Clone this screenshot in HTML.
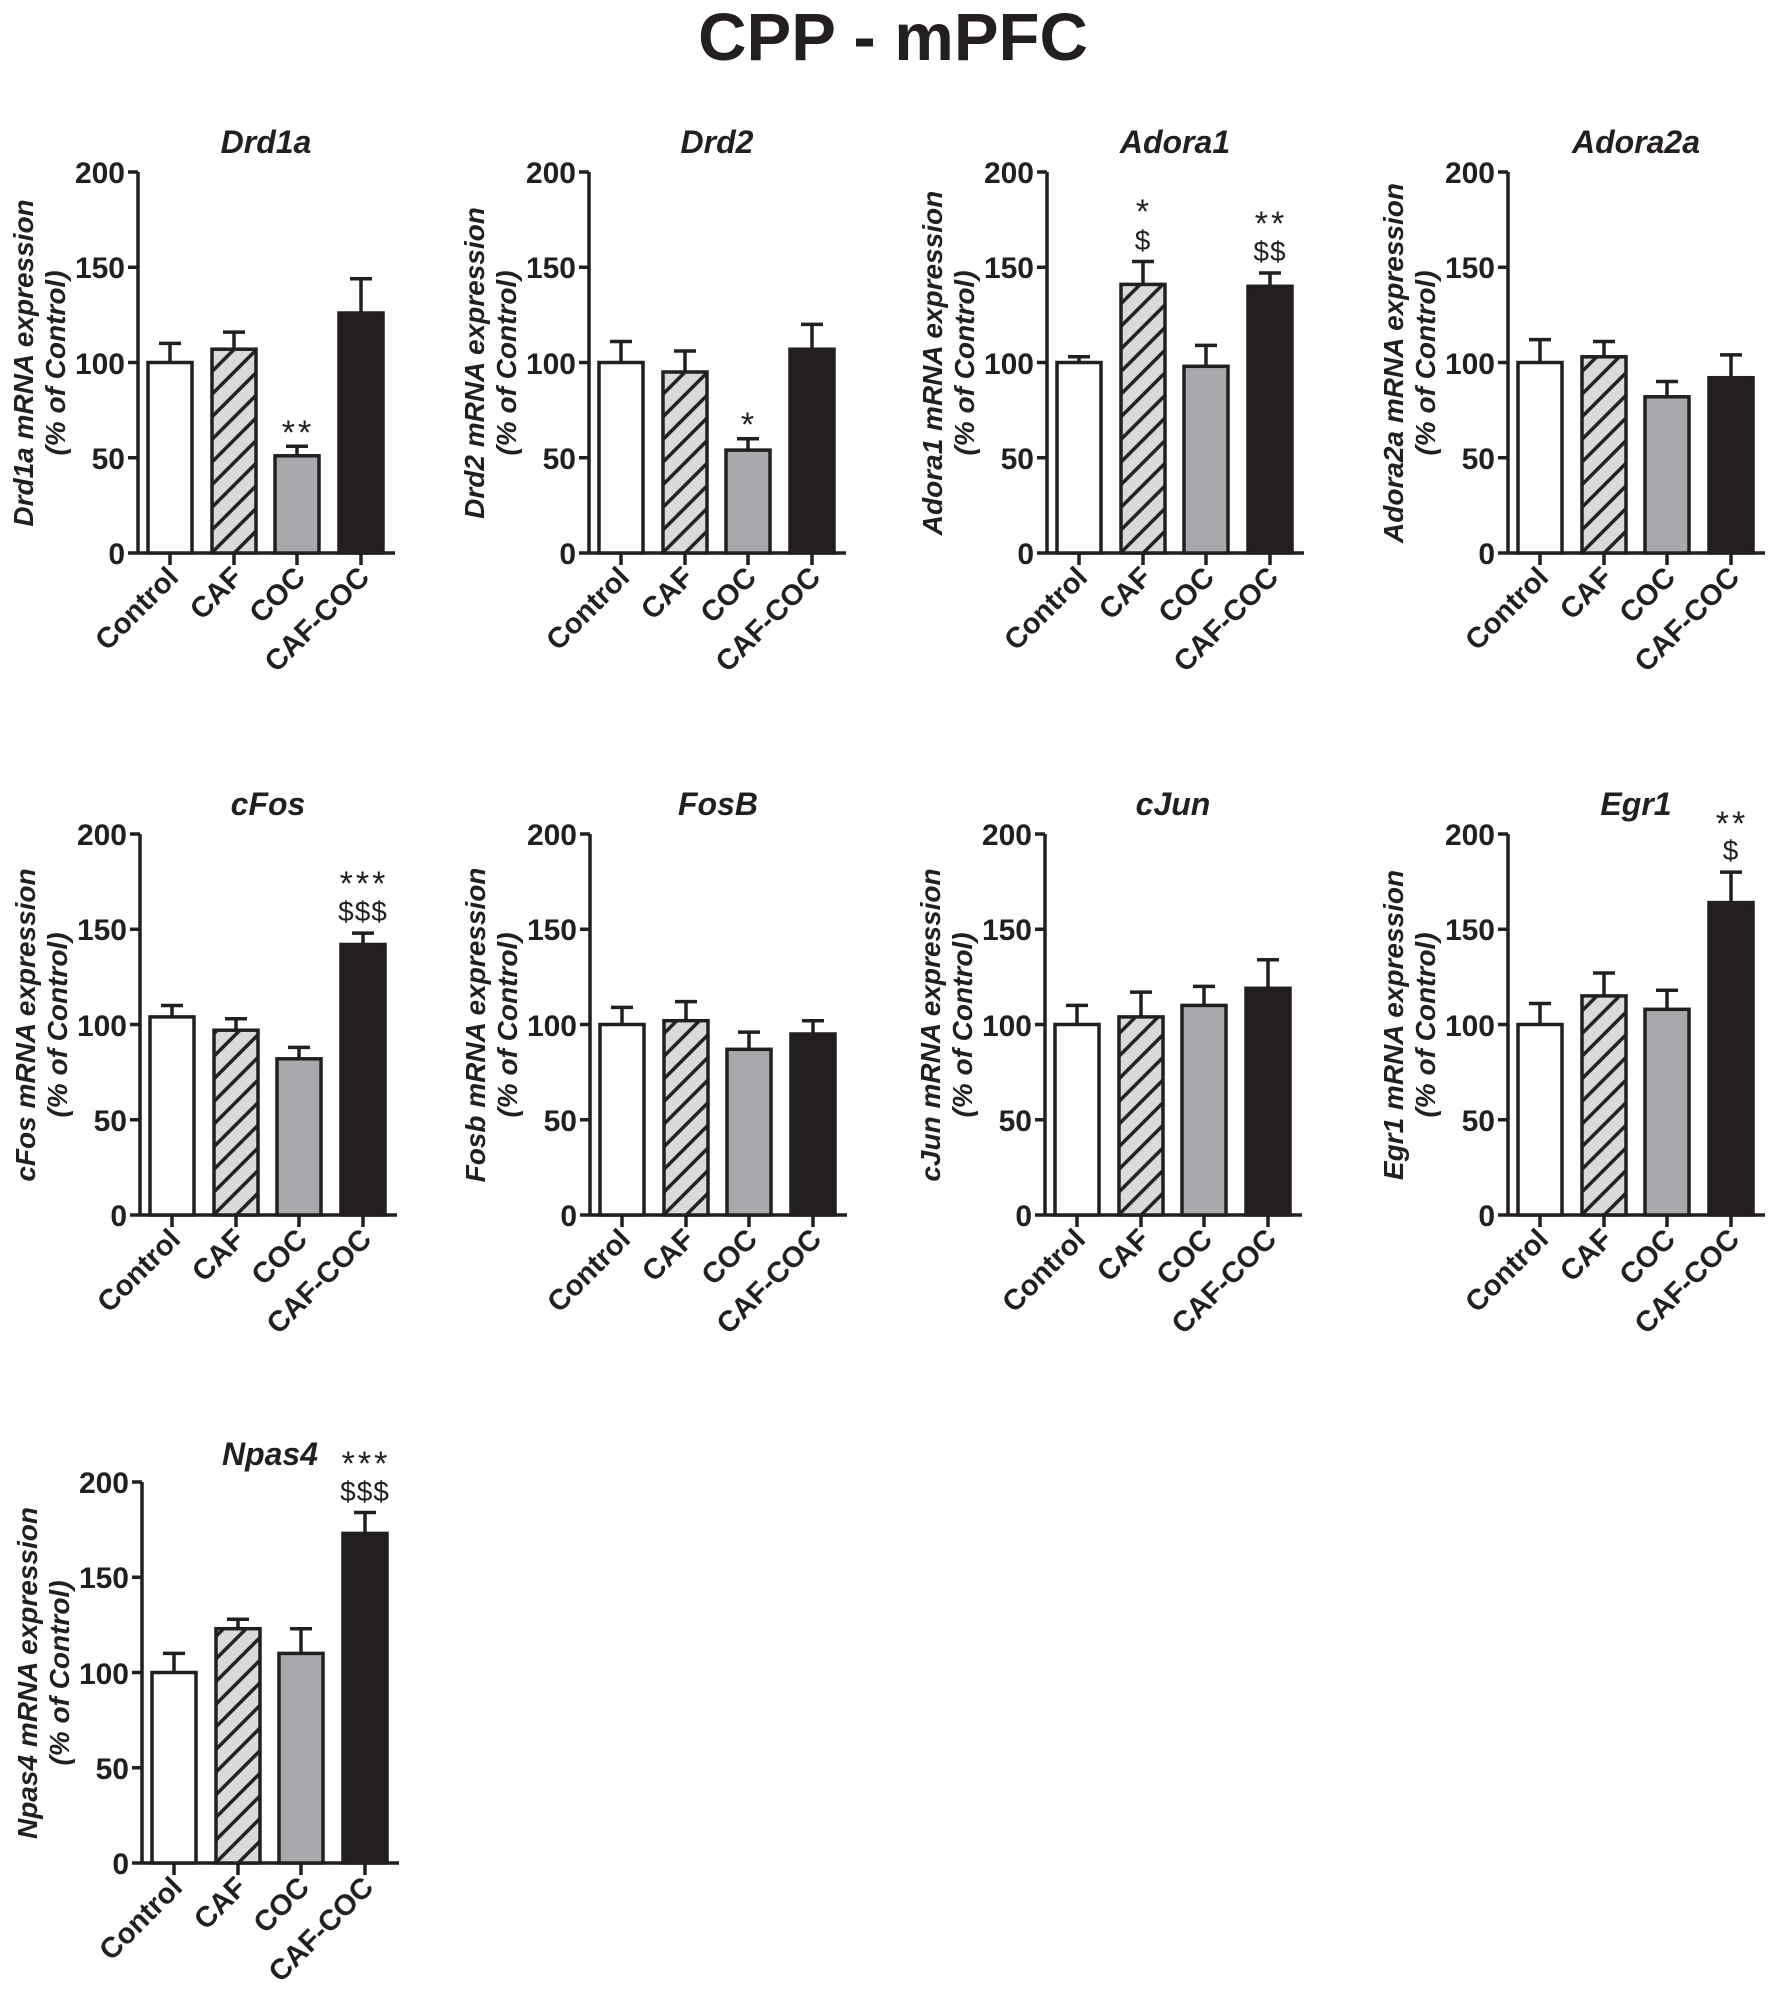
<!DOCTYPE html>
<html><head><meta charset="utf-8"><style>
html,body{margin:0;padding:0;background:#fff;}
svg{display:block;font-family:"Liberation Sans",Arial,sans-serif;}
.tk{font-size:30px;font-weight:bold;fill:#231f20;text-anchor:end;}
.ti{font-size:32px;font-weight:bold;font-style:italic;fill:#231f20;text-anchor:middle;}
.yt{font-size:28px;font-weight:bold;font-style:italic;fill:#231f20;text-anchor:middle;}
.cl{font-size:29px;font-weight:bold;fill:#231f20;text-anchor:end;}
.an{font-size:34px;fill:#231f20;text-anchor:middle;letter-spacing:3px;}
.dl{font-size:28px;fill:#231f20;text-anchor:middle;letter-spacing:1px;}
.ax{stroke:#231f20;stroke-width:3.5;fill:none;}
.b{stroke:#231f20;stroke-width:3.5;}
</style></head><body>
<svg width="1772" height="1993" viewBox="0 0 1772 1993" xmlns="http://www.w3.org/2000/svg">
<defs>
<pattern id="h" patternUnits="userSpaceOnUse" width="16" height="16" patternTransform="rotate(45)">
<rect width="16" height="16" fill="#d9dadb"/><line x1="4" y1="0" x2="4" y2="16" stroke="#231f20" stroke-width="3.5"/>
</pattern>
<g id="frame">
<path class="ax" d="M0 0V-381M-10 0H0M-10 -95.25H0M-10 -190.5H0M-10 -285.75H0M-10 -381H0M0 0H257M32 0V12M96 0V12M159 0V12M223 0V12"/>
<text class="tk" x="-13" y="11">0</text>
<text class="tk" x="-13" y="-84">50</text>
<text class="tk" x="-13" y="-179">100</text>
<text class="tk" x="-13" y="-275">150</text>
<text class="tk" x="-13" y="-370">200</text>
<text class="cl" transform="translate(42,26) rotate(-45)">Control</text>
<text class="cl" transform="translate(106,26) rotate(-45)">CAF</text>
<text class="cl" transform="translate(169,26) rotate(-45)">COC</text>
<text class="cl" transform="translate(233,26) rotate(-45)">CAF-COC</text>
</g>
</defs>
<text x="893" y="60" style="font-size:67px;font-weight:bold;fill:#231f20;text-anchor:middle">CPP - mPFC</text>

<!-- Drd1a -->
<g transform="translate(138,553)">
<use href="#frame"/>
<text class="ti" x="128" y="-400">Drd1a</text>
<text class="yt" transform="translate(-105,-190) rotate(-90)">Drd1a mRNA expression</text>
<text class="yt" transform="translate(-73,-190) rotate(-90)">(% of Control)</text>
<path class="ax" d="M32 -190.5V-209.6M21 -209.6H43M96 -203.8V-220.9M85 -220.9H107M159 -97.2V-106.7M148 -106.7H170M223 -240V-274.3M212 -274.3H234"/>
<rect class="b" x="10" y="-190.5" width="44" height="190.5" fill="#fff"/>
<rect class="b" x="74" y="-203.8" width="44" height="203.8" fill="url(#h)"/>
<rect class="b" x="137" y="-97.2" width="44" height="97.2" fill="#a7a9ac"/>
<rect class="b" x="201" y="-240" width="44" height="240" fill="#231f20"/>
<text class="an" x="160" y="-109">**</text>
</g>

<!-- Drd2 -->
<g transform="translate(589,553)">
<use href="#frame"/>
<text class="ti" x="128" y="-400">Drd2</text>
<text class="yt" transform="translate(-105,-190) rotate(-90)">Drd2 mRNA expression</text>
<text class="yt" transform="translate(-73,-190) rotate(-90)">(% of Control)</text>
<path class="ax" d="M32 -190.5V-211.5M21 -211.5H43M96 -181V-202M85 -202H107M159 -102.9V-114.3M148 -114.3H170M223 -203.8V-228.6M212 -228.6H234"/>
<rect class="b" x="10" y="-190.5" width="44" height="190.5" fill="#fff"/>
<rect class="b" x="74" y="-181" width="44" height="181" fill="url(#h)"/>
<rect class="b" x="137" y="-102.9" width="44" height="102.9" fill="#a7a9ac"/>
<rect class="b" x="201" y="-203.8" width="44" height="203.8" fill="#231f20"/>
<text class="an" x="160" y="-117">*</text>
</g>

<!-- Adora1 -->
<g transform="translate(1047,553)">
<use href="#frame"/>
<text class="ti" x="128" y="-400">Adora1</text>
<text class="yt" transform="translate(-105,-190) rotate(-90)">Adora1 mRNA expression</text>
<text class="yt" transform="translate(-73,-190) rotate(-90)">(% of Control)</text>
<path class="ax" d="M32 -190.5V-196.2M21 -196.2H43M96 -268.6V-291.5M85 -291.5H107M159 -186.7V-207.6M148 -207.6H170M223 -266.7V-280M212 -280H234"/>
<rect class="b" x="10" y="-190.5" width="44" height="190.5" fill="#fff"/>
<rect class="b" x="74" y="-268.6" width="44" height="268.6" fill="url(#h)"/>
<rect class="b" x="137" y="-186.7" width="44" height="186.7" fill="#a7a9ac"/>
<rect class="b" x="201" y="-266.7" width="44" height="266.7" fill="#231f20"/>
<text class="an" x="97" y="-330">*</text><text class="dl" x="96" y="-303">$</text>
<text class="an" x="224" y="-318">**</text><text class="dl" x="223" y="-292">$$</text>
</g>

<!-- Adora2a -->
<g transform="translate(1508,553)">
<use href="#frame"/>
<text class="ti" x="128" y="-400">Adora2a</text>
<text class="yt" transform="translate(-105,-190) rotate(-90)">Adora2a mRNA expression</text>
<text class="yt" transform="translate(-73,-190) rotate(-90)">(% of Control)</text>
<path class="ax" d="M32 -190.5V-213.4M21 -213.4H43M96 -196.2V-211.5M85 -211.5H107M159 -156.2V-171.5M148 -171.5H170M223 -175.3V-198.1M212 -198.1H234"/>
<rect class="b" x="10" y="-190.5" width="44" height="190.5" fill="#fff"/>
<rect class="b" x="74" y="-196.2" width="44" height="196.2" fill="url(#h)"/>
<rect class="b" x="137" y="-156.2" width="44" height="156.2" fill="#a7a9ac"/>
<rect class="b" x="201" y="-175.3" width="44" height="175.3" fill="#231f20"/>
</g>

<!-- cFos -->
<g transform="translate(140,1215)">
<use href="#frame"/>
<text class="ti" x="128" y="-400">cFos</text>
<text class="yt" transform="translate(-105,-190) rotate(-90)">cFos mRNA expression</text>
<text class="yt" transform="translate(-73,-190) rotate(-90)">(% of Control)</text>
<path class="ax" d="M32 -198.1V-209.5M21 -209.5H43M96 -184.8V-196.2M85 -196.2H107M159 -156.2V-167.6M148 -167.6H170M223 -270.5V-281.9M212 -281.9H234"/>
<rect class="b" x="10" y="-198.1" width="44" height="198.1" fill="#fff"/>
<rect class="b" x="74" y="-184.8" width="44" height="184.8" fill="url(#h)"/>
<rect class="b" x="137" y="-156.2" width="44" height="156.2" fill="#a7a9ac"/>
<rect class="b" x="201" y="-270.5" width="44" height="270.5" fill="#231f20"/>
<text class="an" x="224" y="-320">***</text><text class="dl" x="223" y="-294">$$$</text>
</g>

<!-- FosB -->
<g transform="translate(590,1215)">
<use href="#frame"/>
<text class="ti" x="128" y="-400">FosB</text>
<text class="yt" transform="translate(-105,-190) rotate(-90)">Fosb mRNA expression</text>
<text class="yt" transform="translate(-73,-190) rotate(-90)">(% of Control)</text>
<path class="ax" d="M32 -190.5V-207.6M21 -207.6H43M96 -194.3V-213.4M85 -213.4H107M159 -165.7V-182.9M148 -182.9H170M223 -181V-194.3M212 -194.3H234"/>
<rect class="b" x="10" y="-190.5" width="44" height="190.5" fill="#fff"/>
<rect class="b" x="74" y="-194.3" width="44" height="194.3" fill="url(#h)"/>
<rect class="b" x="137" y="-165.7" width="44" height="165.7" fill="#a7a9ac"/>
<rect class="b" x="201" y="-181" width="44" height="181" fill="#231f20"/>
</g>

<!-- cJun -->
<g transform="translate(1045,1215)">
<use href="#frame"/>
<text class="ti" x="128" y="-400">cJun</text>
<text class="yt" transform="translate(-105,-190) rotate(-90)">cJun mRNA expression</text>
<text class="yt" transform="translate(-73,-190) rotate(-90)">(% of Control)</text>
<path class="ax" d="M32 -190.5V-209.6M21 -209.6H43M96 -198.1V-222.9M85 -222.9H107M159 -209.6V-228.6M148 -228.6H170M223 -226.7V-255.3M212 -255.3H234"/>
<rect class="b" x="10" y="-190.5" width="44" height="190.5" fill="#fff"/>
<rect class="b" x="74" y="-198.1" width="44" height="198.1" fill="url(#h)"/>
<rect class="b" x="137" y="-209.6" width="44" height="209.6" fill="#a7a9ac"/>
<rect class="b" x="201" y="-226.7" width="44" height="226.7" fill="#231f20"/>
</g>

<!-- Egr1 -->
<g transform="translate(1508,1215)">
<use href="#frame"/>
<text class="ti" x="128" y="-400">Egr1</text>
<text class="yt" transform="translate(-105,-190) rotate(-90)">Egr1 mRNA expression</text>
<text class="yt" transform="translate(-73,-190) rotate(-90)">(% of Control)</text>
<path class="ax" d="M32 -190.5V-211.5M21 -211.5H43M96 -219.1V-242M85 -242H107M159 -205.7V-224.8M148 -224.8H170M223 -312.4V-342.9M212 -342.9H234"/>
<rect class="b" x="10" y="-190.5" width="44" height="190.5" fill="#fff"/>
<rect class="b" x="74" y="-219.1" width="44" height="219.1" fill="url(#h)"/>
<rect class="b" x="137" y="-205.7" width="44" height="205.7" fill="#a7a9ac"/>
<rect class="b" x="201" y="-312.4" width="44" height="312.4" fill="#231f20"/>
<text class="an" x="224" y="-380">**</text><text class="dl" x="223" y="-355">$</text>
</g>

<!-- Npas4 -->
<g transform="translate(142,1863)">
<use href="#frame"/>
<text class="ti" x="128" y="-398">Npas4</text>
<text class="yt" transform="translate(-105,-190) rotate(-90)">Npas4 mRNA expression</text>
<text class="yt" transform="translate(-73,-190) rotate(-90)">(% of Control)</text>
<path class="ax" d="M32 -190.5V-209.6M21 -209.6H43M96 -234.3V-243.8M85 -243.8H107M159 -209.6V-234.3M148 -234.3H170M223 -329.6V-350.5M212 -350.5H234"/>
<rect class="b" x="10" y="-190.5" width="44" height="190.5" fill="#fff"/>
<rect class="b" x="74" y="-234.3" width="44" height="234.3" fill="url(#h)"/>
<rect class="b" x="137" y="-209.6" width="44" height="209.6" fill="#a7a9ac"/>
<rect class="b" x="201" y="-329.6" width="44" height="329.6" fill="#231f20"/>
<text class="an" x="224" y="-388">***</text><text class="dl" x="223" y="-362">$$$</text>
</g>
</svg>
</body></html>
